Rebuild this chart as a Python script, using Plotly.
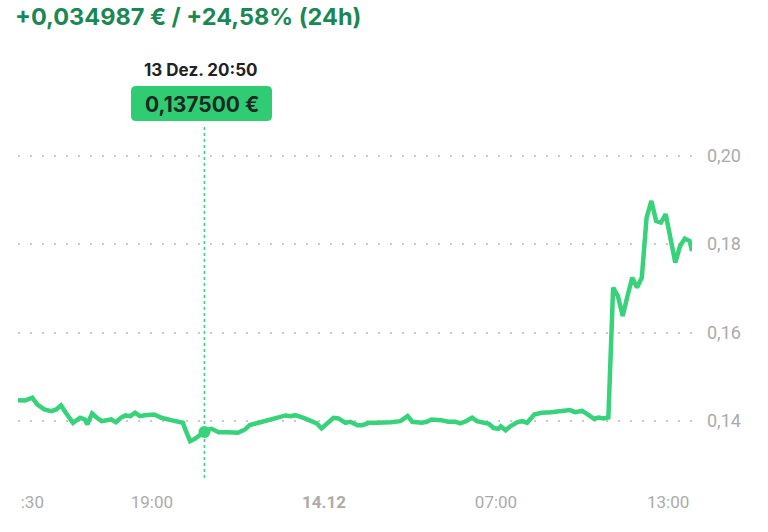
import plotly.graph_objects as go

# price history, 13.12 14:20 -> 14.12 13:50
times = [
    "2022-12-13 14:20", "2022-12-13 14:35", "2022-12-13 14:50", "2022-12-13 15:00", "2022-12-13 15:15",
    "2022-12-13 15:30", "2022-12-13 15:40", "2022-12-13 15:50", "2022-12-13 16:00", "2022-12-13 16:15",
    "2022-12-13 16:30", "2022-12-13 16:40", "2022-12-13 16:45", "2022-12-13 16:55", "2022-12-13 17:05",
    "2022-12-13 17:15", "2022-12-13 17:35", "2022-12-13 17:45", "2022-12-13 17:55", "2022-12-13 18:05",
    "2022-12-13 18:15", "2022-12-13 18:25", "2022-12-13 18:35", "2022-12-13 18:45", "2022-12-13 19:05",
    "2022-12-13 19:20", "2022-12-13 19:40", "2022-12-13 20:05", "2022-12-13 20:10", "2022-12-13 20:20",
    "2022-12-13 20:30", "2022-12-13 20:40", "2022-12-13 20:50", "2022-12-13 20:55", "2022-12-13 21:05",
    "2022-12-13 21:20", "2022-12-13 21:40", "2022-12-13 22:00", "2022-12-13 22:15", "2022-12-13 22:25",
    "2022-12-13 22:45", "2022-12-13 23:10", "2022-12-13 23:25", "2022-12-13 23:40", "2022-12-13 23:50",
    "2022-12-14 00:00", "2022-12-14 00:20", "2022-12-14 00:35", "2022-12-14 00:45", "2022-12-14 00:55",
    "2022-12-14 01:10", "2022-12-14 01:20", "2022-12-14 01:30", "2022-12-14 01:45", "2022-12-14 01:55",
    "2022-12-14 02:10", "2022-12-14 02:20", "2022-12-14 02:35", "2022-12-14 02:50", "2022-12-14 03:00",
    "2022-12-14 03:20", "2022-12-14 03:40", "2022-12-14 03:55", "2022-12-14 04:05", "2022-12-14 04:25",
    "2022-12-14 04:35", "2022-12-14 04:45", "2022-12-14 05:05", "2022-12-14 05:20", "2022-12-14 05:35",
    "2022-12-14 05:45", "2022-12-14 05:55", "2022-12-14 06:10", "2022-12-14 06:20", "2022-12-14 06:35",
    "2022-12-14 06:45", "2022-12-14 06:55", "2022-12-14 07:05", "2022-12-14 07:10", "2022-12-14 07:20",
    "2022-12-14 07:30", "2022-12-14 07:45", "2022-12-14 07:55", "2022-12-14 08:05", "2022-12-14 08:20",
    "2022-12-14 08:35", "2022-12-14 08:55", "2022-12-14 09:10", "2022-12-14 09:20", "2022-12-14 09:35",
    "2022-12-14 09:45", "2022-12-14 10:00", "2022-12-14 10:10", "2022-12-14 10:25", "2022-12-14 10:35",
    "2022-12-14 10:45", "2022-12-14 10:55", "2022-12-14 11:05", "2022-12-14 11:15", "2022-12-14 11:25",
    "2022-12-14 11:35", "2022-12-14 11:45", "2022-12-14 11:55", "2022-12-14 12:05", "2022-12-14 12:15",
    "2022-12-14 12:25", "2022-12-14 12:35", "2022-12-14 12:45", "2022-12-14 12:55", "2022-12-14 13:15",
    "2022-12-14 13:25", "2022-12-14 13:35", "2022-12-14 13:45", "2022-12-14 13:50",
]
prices = [
    0.14471, 0.14464, 0.14525, 0.14374, 0.14260,
    0.14222, 0.14260, 0.14351, 0.14186, 0.13959,
    0.14072, 0.14034, 0.13921, 0.14170, 0.14072,
    0.13995, 0.14034, 0.13973, 0.14072, 0.14125,
    0.14109, 0.14186, 0.14109, 0.14131, 0.14147,
    0.14072, 0.14018, 0.13959, 0.13808, 0.13543,
    0.13597, 0.13680, 0.13750, 0.13792, 0.13823,
    0.13746, 0.13746, 0.13733, 0.13808, 0.13909,
    0.13965, 0.14034, 0.14072, 0.14125, 0.14109,
    0.14131, 0.14057, 0.13982, 0.13943, 0.13830,
    0.13995, 0.14072, 0.14057, 0.13959, 0.13982,
    0.13905, 0.13905, 0.13959, 0.13959, 0.13959,
    0.13973, 0.13995, 0.14109, 0.13982, 0.13959,
    0.13982, 0.14034, 0.14018, 0.13982, 0.13982,
    0.13943, 0.13982, 0.14072, 0.13995, 0.13959,
    0.13937, 0.13840, 0.13820, 0.13880, 0.13790,
    0.13880, 0.13973, 0.13995, 0.13959, 0.14147,
    0.14186, 0.14199, 0.14222, 0.14245, 0.14245,
    0.14199, 0.14226, 0.14158, 0.14050, 0.14079,
    0.14057, 0.14079, 0.17016, 0.16826, 0.16373,
    0.16826, 0.17242, 0.17016, 0.17242, 0.18600,
    0.18976, 0.18523, 0.18487, 0.18675, 0.17582,
    0.17957, 0.18125, 0.18071, 0.17844,
]

x_tick_vals = ["2022-12-13 14:50", "2022-12-13 19:00", "2022-12-14 01:00", "2022-12-14 07:00", "2022-12-14 13:00"]
x_tick_text = [":30", "19:00", "<b>14.12</b>", "07:00", "13:00"]
y_tick_vals = [0.14, 0.16, 0.18, 0.20]
y_tick_text = ["0,14", "0,16", "0,18", "0,20"]

headline = "+0,034987 € / +24,58% (24h)"
hover_time = "2022-12-13 20:50"
hover_price = 0.1375
hover_date_label = "13 Dez. 20:50"
hover_price_label = "0,137500 €"

GREEN = "#38d27b"
DARK_GREEN = "#1a8754"
FONT = "Inter, Roboto, sans-serif"

W, H = 768, 532
L, R, T, B = 18, 76, 130, 54


def px(x):
    return (x - L) / (W - L - R)


def py(y):
    return (H - B - y) / (H - T - B)


def rounded_box(x0, y0, x1, y1, r):
    # pixel box -> paper path with rounded corners
    rx, ry = r / (W - L - R), r / (H - T - B)
    a, b, c, d = px(x0), px(x1), py(y0), py(y1)
    return (f"M {a + rx},{c} L {b - rx},{c} Q {b},{c} {b},{c - ry} "
            f"L {b},{d + ry} Q {b},{d} {b - rx},{d} L {a + rx},{d} "
            f"Q {a},{d} {a},{d + ry} L {a},{c - ry} Q {a},{c} {a + rx},{c} Z")


fig = go.Figure()
fig.add_trace(go.Scatter(
    x=times, y=prices, mode="lines",
    line=dict(color=GREEN, width=4.5),
    hoverinfo="skip",
))
fig.add_trace(go.Scatter(
    x=[hover_time], y=[hover_price], mode="markers",
    marker=dict(color=GREEN, size=12),
    hoverinfo="skip",
))

fig.add_shape(type="line", xref="x", yref="paper",
              x0=hover_time, x1=hover_time, y0=0, y1=py(126),
              line=dict(color=GREEN, width=1.5, dash="dot"), layer="below")
fig.add_shape(type="path", xref="paper", yref="paper",
              path=rounded_box(131, 86, 272, 121, 5),
              fillcolor="#2fcc73", line=dict(width=0))

fig.add_annotation(x=px(201), y=py(70), xref="paper", yref="paper",
                   xanchor="center", yanchor="middle",
                   text="<b>" + hover_date_label + "</b>", showarrow=False,
                   font=dict(family=FONT, size=17, color="#222222"))
fig.add_annotation(x=px(201.5), y=py(104), xref="paper", yref="paper",
                   xanchor="center", yanchor="middle",
                   text="<b>" + hover_price_label + "</b>", showarrow=False,
                   font=dict(family=FONT, size=21, color="#1d2a22"))

fig.update_layout(
    width=W, height=H,
    margin=dict(l=L, r=R, t=T, b=B),
    paper_bgcolor="white", plot_bgcolor="white",
    showlegend=False,
    title=dict(text="<b>" + headline + "</b>", xref="container", yref="container",
               x=15 / W, xanchor="left", y=1 - 17 / H, yanchor="middle",
               font=dict(family=FONT, size=23.5, color=DARK_GREEN)),
    xaxis=dict(
        type="date", range=[times[0], times[-1]],
        showgrid=False, zeroline=False, showline=False, ticks="",
        tickvals=x_tick_vals, ticktext=x_tick_text,
        tickfont=dict(family="Roboto, sans-serif", size=17, color="#ababab"),
        ticklabelstandoff=12,
    ),
    yaxis=dict(
        side="right", range=[0.1271, 0.2058],
        tickvals=y_tick_vals, ticktext=y_tick_text,
        showgrid=True, gridcolor="#c9c9c9", gridwidth=1.5, griddash="2px,10px",
        zeroline=False, showline=False, ticks="",
        tickfont=dict(family="Roboto, sans-serif", size=18, color="#ababab"),
        ticklabelstandoff=14,
    ),
)

fig.write_html("out.html", config={"displayModeBar": False},
               post_script="document.body.style.margin='0';")
